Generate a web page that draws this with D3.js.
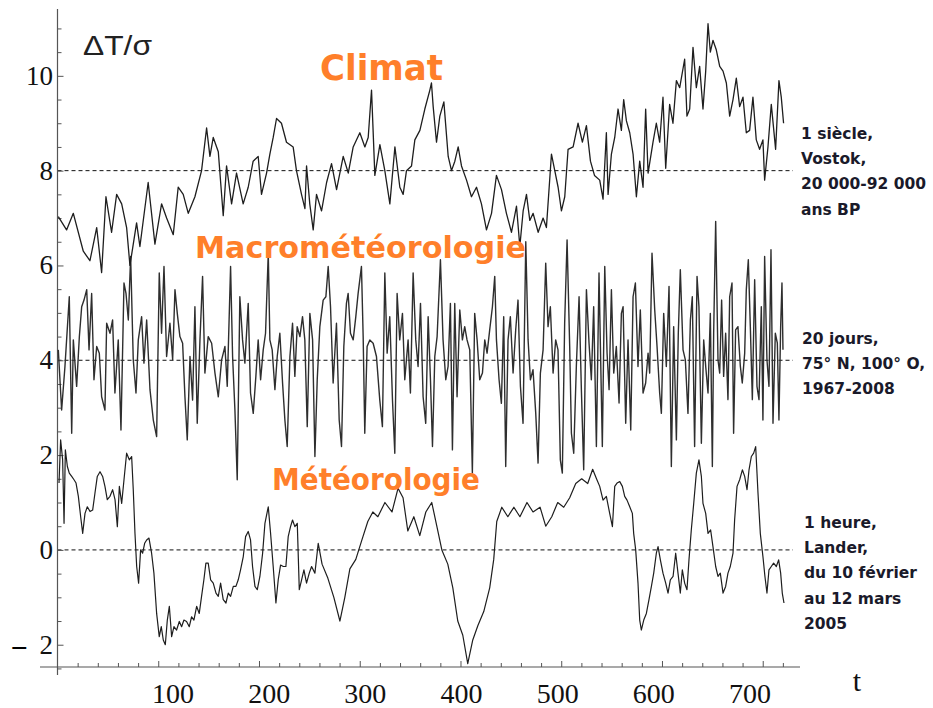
<!DOCTYPE html>
<html>
<head>
<meta charset="utf-8">
<script src="https://cdn.jsdelivr.net/npm/d3@7"></script>
<style>
  body { margin: 0; background: #fff; }
  svg { display: block; }
</style>
</head>
<body>
<svg id="chart" width="933" height="708"></svg>
<script>
// [t, deltaT/sigma]
const climat = [
  [0.8,7.03],[9,6.75],[15.7,7.1],[25.6,6.3],[32.2,6.1],[38.9,6.8],[43.8,5.85],[48.1,7.45],[53.7,6.7],[58.7,7.5],
  [63.7,7.3],[68.6,6.8],[71.9,6.0],[78.5,6.9],[81.8,6.4],[90,7.75],[96.7,6.45],[103.3,7.3],[108.3,7.0],[114.9,6.65],
  [119.8,7.65],[124.8,7.5],[129.8,7.1],[136.4,7.45],[143,8.0],[148,8.9],[151.3,8.3],[154.6,8.7],[159.6,8.4],[164.5,7.05],
  [167.8,8.1],[172.8,7.3],[177.7,7.95],[184.3,7.3],[189.3,7.65],[194.2,8.2],[199.2,8.3],[202.5,7.5],[207.5,7.95],[210.8,8.35],
  [214.1,8.7],[217.4,9.1],[222.3,9.0],[227.3,8.6],[233.9,8.5],[237.2,8.0],[242.2,7.5],[245.6,7.2],[247.2,8.1],[250.4,7.3],
  [253.8,6.75],[257.1,7.5],[262.1,7.15],[267.1,7.75],[272,8.15],[277,7.6],[283.6,8.3],[288.6,7.95],[293.5,8.5],[300.1,8.8],
  [305.1,8.5],[308.4,8.7],[311.7,9.7],[315,7.9],[320,8.55],[324.9,8.0],[329.9,7.3],[334.9,8.5],[339.8,7.65],[343.1,7.5],
  [346.4,8.0],[351.4,8.1],[354.7,8.65],[359.7,8.85],[364.6,9.3],[369.6,9.7],[371.2,9.85],[372.9,9.35],[376.2,8.6],[379.5,9.15],
  [383.5,9.45],[387.8,8.3],[391.1,8.0],[394.4,8.2],[397.7,8.5],[401,8.1],[406,7.8],[410.9,7.45],[415.9,7.65],[420.8,7.3],
  [425.8,6.75],[430.8,7.1],[435.7,7.9],[440.7,7.6],[445.6,7.1],[450.6,6.7],[455.6,7.25],[458.9,6.4],[462.2,7.15],[465.5,7.5],
  [468.8,6.95],[472.1,7.1],[477.1,6.7],[482,7.0],[485.3,6.8],[490.3,8.35],[493.6,8.0],[496.9,7.65],[500.2,7.15],[503.5,7.45],
  [506.8,8.45],[511.8,8.5],[516.7,9.0],[521,8.6],[525,8.95],[529,8.2],[533,7.9],[538.2,7.8],[541.5,7.4],[544.8,8.8],
  [546.5,7.5],[549.8,8.35],[553.1,8.7],[556.4,9.3],[559.7,8.85],[562,9.5],[564.7,9.05],[568,8.8],[571.3,8.35],[574.6,7.45],
  [577.9,8.2],[581.2,7.65],[583.8,9.3],[586.2,7.95],[591.1,8.6],[594.4,9.0],[597.7,8.6],[601,9.55],[603.7,8.05],[607.6,9.4],
  [610.9,9.0],[614.3,9.9],[617.6,9.75],[622.5,10.35],[624.8,9.15],[627.5,9.3],[630.8,10.6],[634.1,9.75],[637.4,10.2],[640.7,9.3],
  [643.4,10.1],[645.7,11.1],[648,10.5],[650.6,10.75],[653.9,10.55],[657.3,10.2],[660.6,10.1],[663.9,9.85],[667.2,9.15],[670.5,9.5],
  [673.8,9.95],[677.1,9.35],[680.4,9.55],[683.7,8.8],[687,8.85],[690.3,9.55],[693.6,8.65],[696.9,8.45],[700.2,8.65],[701.9,7.8],
  [705.2,8.5],[708.5,9.4],[712.8,8.45],[716.1,9.9],[718.4,9.55],[720.7,9.0]
]

const macro = [
  [0.8,4.22],[4.1,2.95],[7.4,3.87],[11.7,5.34],[14.1,2.46],[15.7,4.43],[19,3.45],[21.7,4.5],[24,5.13],[26.3,5.27],
  [29,5.49],[31.3,4.22],[33.9,5.41],[36.2,3.59],[38.9,4.29],[41.5,4.15],[43.8,3.23],[47.1,2.95],[48.8,4.78],[52.1,4.57],
  [54.7,4.85],[57,3.31],[60.3,4.43],[63,2.53],[66,5.63],[68,5.41],[70.3,4.85],[72.6,6.19],[75.2,4.01],[77.9,3.31],
  [80.2,4.43],[83.5,4.92],[85.8,3.94],[88.5,4.85],[91.8,3.38],[95.1,2.74],[98.4,2.39],[101,5.84],[103.3,4.57],[105.7,5.98],
  [108.3,4.08],[111.6,4.78],[114.3,4.01],[116.6,5.49],[118.9,4.99],[121.5,4.5],[124.2,4.36],[126.5,3.23],[128.8,2.32],[131.5,4.08],
  [134.1,3.16],[136.4,5.13],[138.7,2.67],[141.4,4.43],[144,5.77],[146.3,3.73],[149.6,4.5],[153,4.36],[156.3,3.73],[159.6,3.23],
  [162.9,4.01],[166.2,4.29],[168.5,3.45],[171.8,5.98],[173.8,4.08],[176.1,2.95],[178.4,1.48],[181,5.34],[183.7,4.43],[186,3.94],
  [189.3,5.2],[191.6,3.31],[194.3,2.88],[196.9,3.66],[199.2,4.43],[201.6,3.59],[204.2,4.22],[206.5,4.57],[209.2,6.26],[210.8,4.43],
  [213.1,4.22],[215.8,3.38],[218.1,4.08],[220.7,4.57],[223.4,3.52],[225.7,2.74],[228,2.18],[230.7,4.08],[233.3,4.78],[235.6,3.66],
  [237.9,4.71],[240.6,4.5],[243.2,4.92],[245.5,4.43],[247.9,2.6],[250.5,4.99],[253.2,4.43],[255.5,1.97],[257.8,3.59],[260.4,4.71],
  [263.7,5.27],[266.4,5.34],[268.7,5.98],[271,5.13],[273.6,3.52],[276.9,4.78],[279.6,2.74],[281.9,2.18],[284.2,4.29],[286.8,5.2],
  [288.5,5.41],[290.8,4.57],[293.5,4.43],[296.1,4.92],[298.4,5.41],[301.7,5.98],[303.4,4.5],[305,2.46],[307.3,4.29],[310,4.43],
  [313.3,4.36],[316.6,4.08],[319.9,3.16],[322.5,2.6],[324.9,5.84],[327.2,4.15],[329.8,4.92],[332.5,3.16],[334.8,2.04],[337.1,5.41],
  [339.7,4.43],[342.4,4.99],[344.7,3.59],[348,4.43],[350.3,3.31],[353,5.84],[355.6,4.43],[357.9,3.87],[360.3,5.2],[362.9,3.23],
  [365.5,2.67],[367.9,4.92],[370.2,3.59],[372.2,2.18],[374.5,4.08],[376.8,4.5],[380.1,6.12],[382.7,4.43],[385.4,3.59],[387.7,3.87],
  [390,5.2],[392,2.11],[394.3,5.2],[396.6,3.23],[399.3,5.06],[401.9,4.43],[404.2,4.71],[406.5,4.43],[409.2,4.22],[411.8,1.62],
  [414.1,4.99],[416.5,4.43],[419.1,3.59],[421.8,3.73],[424.1,4.43],[426.4,4.15],[429,4.64],[431.7,5.13],[434,5.77],[435.7,4.43],
  [438.3,3.59],[440.6,3.09],[442.9,4.92],[444.9,1.76],[447.2,4.43],[449.5,4.92],[452.2,3.73],[454.8,4.64],[457.1,5.27],[459.5,3.45],
  [462.1,2.67],[464.8,6.5],[467.1,4.43],[469.4,3.59],[472,3.8],[474.7,2.88],[477,1.83],[479.3,3.73],[482,4.22],[484.6,6.05],
  [486.9,4.71],[489.2,5.13],[491.9,3.73],[494.5,4.43],[496.8,4.22],[499.1,1.9],[501.1,1.62],[503.4,4.78],[505.8,6.54],[508.4,4.29],
  [510.1,2.46],[512.4,2.04],[515,3.87],[517.7,5.34],[520,3.38],[522.3,1.69],[525,5.49],[527.6,4.36],[529.9,3.59],[532.2,5.13],
  [534.9,2.18],[537.5,5.84],[540.8,2.18],[543.2,5.98],[545.5,4.15],[547.5,3.38],[549.8,5.49],[552.1,3.73],[554.7,4.29],[557.4,3.1],
  [559.7,4.99],[561.4,5.13],[564,2.67],[566.3,4.43],[569,2.53],[571.3,5.34],[573.6,5.63],[576.2,3.87],[578.5,5.06],[581.2,3.31],
  [583.8,3.52],[586.2,4.15],[587.8,3.73],[590.1,6.26],[592.8,5.06],[595.1,4.29],[597.7,3.31],[599.4,2.88],[601.7,4.99],[604.3,3.87],
  [607,5.56],[609.3,1.76],[611.6,4.71],[614.3,2.32],[616.2,4.57],[618.2,5.91],[620.9,4.22],[623.2,4.01],[625.8,2.88],[628.2,4.85],
  [630.1,5.34],[632.4,2.18],[634.8,5.77],[636.7,5.13],[639.1,2.25],[641.4,4.43],[643.4,3.87],[645.7,3.31],[648,4.99],[650,1.76],
  [651.3,4.57],[653.3,6.93],[655.6,4.01],[657.3,3.73],[659.2,5.27],[661.2,3.66],[663.2,4.57],[665.5,3.17],[667.2,5.34],[669.5,5.63],
  [671.1,2.46],[673.1,4.64],[675.4,4.71],[677.8,3.87],[679.7,3.52],[682.1,4.15],[683.7,5.49],[685.7,6.12],[687.7,4.71],[689.7,3.17],
  [692,5.7],[694.3,3.45],[696.3,3.17],[698.6,5.13],[700.2,2.74],[701.9,6.19],[704.2,4.01],[706.2,3.45],[708.2,6.33],[710.2,2.67],
  [712.5,4.57],[714.5,4.36],[716.1,2.74],[717.8,4.71],[719.1,5.63],[720.1,4.22]
]

const meteo = [
  [1.5,1.41],[3.1,2.32],[5.1,1.9],[6.5,0.56],[7.8,2.11],[9.8,1.76],[11.7,1.62],[14.1,1.55],[16.4,1.48],[18.4,1.41],
  [20.7,1.13],[23,0.7],[25,0.35],[27.3,0.77],[29.6,0.91],[32.3,0.81],[34.9,0.84],[37.2,1.2],[39.5,1.55],[42.2,1.65],
  [44.8,1.55],[47.1,1.34],[49.4,1.06],[52.1,1.13],[54.7,1.27],[57.1,1.06],[59.4,0.49],[61.4,1.34],[63.7,0.98],[66,1.48],
  [68.6,2.04],[71.3,1.9],[73.6,1.97],[75.2,1.27],[76.9,0.35],[78.6,-0.35],[80.5,-0.7],[82.5,0],[84.5,-0.07],[86.5,0.14],
  [88.5,0.21],[90.8,0.25],[93.4,-0.07],[95.7,-0.49],[98.4,-1.34],[101,-1.83],[103,-1.62],[105,-1.9],[107,-2.0],[109,-1.48],
  [111,-1.19],[113.3,-1.83],[115.6,-1.62],[118.2,-1.69],[120.9,-1.51],[123.2,-1.62],[125.5,-1.48],[128.1,-1.51],[130.8,-1.62],[133.1,-1.41],
  [135.4,-1.48],[138.1,-1.19],[140.7,-1.34],[143,-0.98],[145.3,-0.63],[147.3,-0.28],[149.6,-0.28],[152,-0.63],[154.6,-0.7],[157.3,-0.91],
  [159.6,-0.98],[161.9,-0.7],[164.5,-1.05],[167.2,-1.12],[169.5,-0.91],[171.8,-0.98],[174.5,-0.77],[177.1,-0.77],[179.4,-0.63],[181.7,-0.42],
  [184.4,-0.14],[186.7,0.28],[189.3,0.39],[191.6,0.21],[193.6,-0.35],[196,-0.77],[198.3,-0.84],[200.9,-0.56],[203.6,-0.07],[205.9,0.56],
  [209.2,0.91],[211.5,0.35],[214.1,-0.35],[216.8,-1.12],[219.1,-0.63],[221.4,-0.32],[224.1,-0.35],[226.7,-0.35],[229,0.28],[231.3,0.49],
  [233.3,0.63],[235.6,0.49],[238,0.56],[240,-0.84],[242.3,-0.63],[244.6,-0.42],[247.2,-0.7],[249.9,-0.49],[252.2,-0.35],[255.5,-0.49],
  [258.8,0.14],[262.6,-0.3],[268.4,-0.6],[274.3,-1.0],[280.3,-1.5],[285.2,-1.0],[290.2,-0.4],[296.1,-0.2],[302,0.2],[308,0.6],
  [313,0.8],[318,0.7],[325,1.0],[332,0.8],[338,1.3],[343,1.1],[347.7,0.4],[353.7,0.7],[359.6,0.3],[365.6,0.8],
  [371.5,1.0],[376.5,0.5],[381.5,0.0],[387.4,-0.3],[392.4,-0.8],[397.3,-1.5],[402.3,-1.8],[407.2,-2.4],[412.2,-1.9],[417.2,-1.6],
  [423.1,-1.3],[429,-0.8],[433,-0.2],[436,0.6],[441,0.9],[447,0.7],[453,0.9],[459,0.7],[466,1.0],[472,0.8],
  [479,0.9],[484.6,0.5],[490.6,0.7],[496.5,1.0],[502.5,0.9],[508.4,1.1],[514.4,1.4],[520.3,1.5],[526.3,1.4],[531.2,1.7],
  [535,1.5],[538.2,1.34],[541.5,1.05],[544.8,1.13],[548.1,0.77],[550.8,0.49],[553.1,1.34],[555.4,1.41],[558.1,1.44],[560.7,1.34],
  [563,1.13],[565.3,1.05],[568,0.91],[570.6,0.77],[571.9,0.35],[573.9,0],[576.2,-0.7],[577.9,-1.48],[579.5,-1.69],[581.9,-1.48],
  [584.5,-1.34],[587.1,-1.05],[589.5,-0.77],[591.8,-0.49],[594.4,-0.07],[596.1,0.07],[598.4,-0.21],[601,-0.49],[603.7,-0.7],[606,-0.91],
  [608.3,-0.63],[611,-0.56],[613.6,-0.07],[615.9,-0.49],[618.2,-0.91],[620.2,-0.42],[622.5,-0.7],[624.8,-0.84],[626.8,-0.21],[629.1,0.42],
  [631.5,0.98],[634.1,1.62],[636.7,1.9],[639.1,1.55],[640.7,0.98],[643.4,0.77],[645.7,0.35],[648.3,0.42],[650.6,0.07],[653.3,-0.35],
  [655.6,-0.56],[657.9,-0.49],[660.6,-0.91],[663.2,-0.77],[665.5,-0.49],[667.8,-0.35],[670.5,-0.07],[672.1,0.63],[674.5,1.34],[677.1,1.48],
  [679.8,1.69],[682.1,1.55],[684.4,1.27],[686.4,1.69],[688.7,1.97],[691,2.04],[693,2.18],[695.3,1.2],[697.6,0.35],[700.2,-0.14],
  [702.2,-0.56],[704.2,-0.91],[706.2,-0.42],[708.5,-0.35],[710.8,-0.28],[713.5,-0.35],[715.8,-0.21],[717.8,-0.49],[719.4,-0.91],[721.1,-1.12]
]

const refLevels = [8, 4, 0]
const yLabels = [-2, 0, 2, 4, 6, 8, 10]
const xLabels = [100, 200, 300, 400, 500, 600, 700]

const seriesNames = ["Climat", "Macrométéorologie", "Météorologie"]
const notesClimat = ["1 siècle,", "Vostok,", "20 000-92 000", "ans BP"]
const notesMacro = ["20 jours,", "75° N, 100° O,", "1967-2008"]
const notesMeteo = ["1 heure,", "Lander,", "du 10 février", "au 12 mars", "2005"]

var svg = d3.select("#chart")

svg.append("rect")
  .attr("width", 933)
  .attr("height", 708)
  .attr("fill", "#fff")

var x = d3.scaleLinear().domain([0, 737]).range([57.5, 800])
var y = d3.scaleLinear().domain([-2.47, 11.41]).range([667, 9])
// the printed tick numbers sit a little off their ticks in the original
var xLab = d3.scaleLinear().domain([100, 700]).range([173, 750])

var line = d3.line()
  .x(d => x(d[0]))
  .y(d => y(d[1]))

// dashed reference levels
svg.selectAll("line.ref")
  .data(refLevels)
  .enter()
  .append("line")
  .attr("class", "ref")
  .attr("x1", x(0))
  .attr("x2", x(730))
  .attr("y1", d => y(d))
  .attr("y2", d => y(d))
  .attr("stroke", "#111")
  .attr("stroke-width", 1)
  .attr("stroke-dasharray", "4,3")

// axes
var axisColor = "#555"

var xAxis = svg.append("g")
  .attr("transform", `translate(0,${y(-2.47)})`)
  .call(d3.axisBottom(x).tickValues(d3.range(20, 740, 20)).tickSize(-4).tickFormat(""))
xAxis.select(".domain").remove()
xAxis.selectAll(".tick line")
  .attr("stroke", axisColor)
  .attr("y2", d => d % 100 === 0 ? -6 : -4)

svg.append("line")
  .attr("x1", x(-17.4)).attr("x2", x(737))
  .attr("y1", y(-2.47)).attr("y2", y(-2.47))
  .attr("stroke", axisColor)
  .attr("stroke-width", 1.2)

var yAxis = svg.append("g")
  .attr("transform", `translate(${x(0)},0)`)
  .call(d3.axisLeft(y).tickValues(d3.range(-2.5, 11.5, 0.5)).tickSize(-3).tickFormat(""))
yAxis.select(".domain").remove()
yAxis.selectAll(".tick line")
  .attr("stroke", axisColor)
  .attr("x2", d => d % 2 === 0 ? 6 : 4)

svg.append("line")
  .attr("x1", x(0)).attr("x2", x(0))
  .attr("y1", y(11.41)).attr("y2", y(-2.47) + 8)
  .attr("stroke", axisColor)
  .attr("stroke-width", 1.2)

var ylab = svg.selectAll("text.ylab")
  .data(yLabels)
  .enter()
  .append("text")
  .attr("class", "ylab")
  .attr("x", 53)
  .attr("y", d => y(d) + 9)
  .attr("text-anchor", "end")
  .attr("font-family", "Liberation Serif, serif")
  .attr("font-size", 27)
  .attr("fill", "#111")
// the minus of -2 is a heavy dash set apart from the digit
ylab.filter(d => d < 0)
  .append("tspan")
  .attr("font-weight", "bold")
  .attr("fill", "#000")
  .text("\u2013\u2002")
ylab.append("tspan")
  .text(d => Math.abs(d))

svg.selectAll("text.xlab")
  .data(xLabels)
  .enter()
  .append("text")
  .attr("class", "xlab")
  .attr("x", d => xLab(d))
  .attr("y", 703)
  .attr("text-anchor", "middle")
  .attr("font-family", "Liberation Serif, serif")
  .attr("font-size", 28)
  .attr("fill", "#111")
  .text(d => d)

svg.append("text")
  .attr("x", 857)
  .attr("y", 691)
  .attr("text-anchor", "middle")
  .attr("font-family", "Liberation Serif, serif")
  .attr("font-size", 30)
  .attr("fill", "#111")
  .text("t")

svg.append("text")
  .attr("x", 83)
  .attr("y", 55)
  .attr("font-family", "Liberation Sans, sans-serif")
  .attr("font-size", 27)
  .attr("textLength", 69)
  .attr("lengthAdjust", "spacingAndGlyphs")
  .attr("fill", "#222")
  .text("ΔT/σ")

// the three curves
svg.append("path")
  .datum(macro)
  .attr("d", line)
  .attr("fill", "none")
  .attr("stroke", "#2e2e2e")
  .attr("stroke-width", 1.4)
  .attr("stroke-linejoin", "round")

svg.append("path")
  .datum(climat)
  .attr("d", line)
  .attr("fill", "none")
  .attr("stroke", "#1e1e1e")
  .attr("stroke-width", 1.3)
  .attr("stroke-linejoin", "round")

svg.append("path")
  .datum(meteo)
  .attr("d", line)
  .attr("fill", "none")
  .attr("stroke", "#1e1e1e")
  .attr("stroke-width", 1.2)
  .attr("stroke-linejoin", "round")

// orange titles
var titlePos = [
  {x: 320, y: 80, size: 35, len: 123},
  {x: 195, y: 258, size: 30, len: 331},
  {x: 272, y: 490, size: 30, len: 208}
]
svg.selectAll("text.title")
  .data(seriesNames)
  .enter()
  .append("text")
  .attr("class", "title")
  .attr("x", (d, i) => titlePos[i].x)
  .attr("y", (d, i) => titlePos[i].y)
  .attr("font-family", "DejaVu Sans, sans-serif")
  .attr("font-weight", "bold")
  .attr("font-size", (d, i) => titlePos[i].size)
  .attr("textLength", (d, i) => titlePos[i].len)
  .attr("lengthAdjust", "spacingAndGlyphs")
  .attr("fill", "#ff7f2a")
  .text(d => d)

// side notes
function notes(lines, x0, y0) {
  svg.append("g")
    .selectAll("text")
    .data(lines)
    .enter()
    .append("text")
    .attr("x", x0)
    .attr("y", (d, i) => y0 + i * 25.2)
    .attr("font-family", "DejaVu Sans, sans-serif")
    .attr("font-weight", "bold")
    .attr("font-size", 15.5)
    .attr("fill", "#1a1a2a")
    .text(d => d)
}
notes(notesClimat, 801, 139)
notes(notesMacro, 802, 344)
notes(notesMeteo, 804, 528)
</script>
</body>
</html>
